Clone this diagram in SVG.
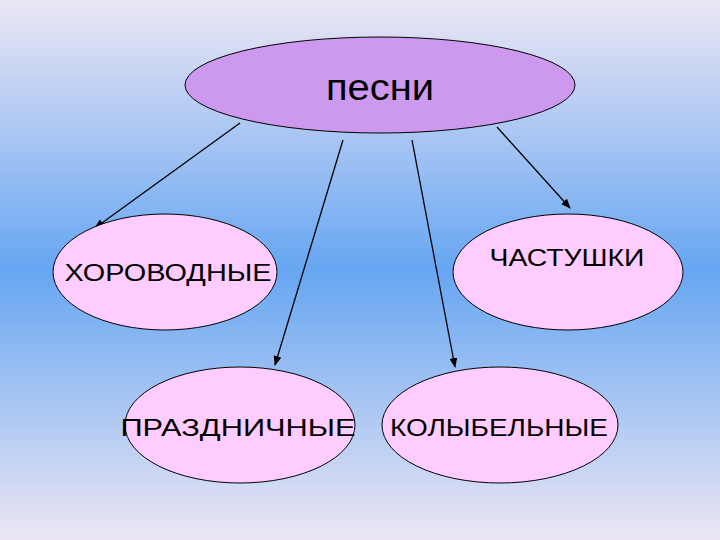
<svg xmlns="http://www.w3.org/2000/svg" width="720" height="540" viewBox="0 0 720 540">
<defs>
<linearGradient id="bg" x1="0" y1="0" x2="0" y2="1">
<stop offset="0" stop-color="#ece6f4"/>
<stop offset="0.5" stop-color="#66a6f2"/>
<stop offset="1" stop-color="#ece6f4"/>
</linearGradient>
<marker id="ah" markerWidth="10" markerHeight="8" refX="9" refY="4" orient="auto" markerUnits="userSpaceOnUse">
<path d="M0,0 L10,4 L0,8 Z" fill="#000"/>
</marker>
<style>
.n{fill:#ffccff;stroke:#000;stroke-width:1}
.t{font-family:"Liberation Sans",Arial,sans-serif;font-size:24px;fill:#000;text-anchor:middle}
.c{stroke:#000;stroke-width:1.3;fill:none;marker-end:url(#ah)}
</style>
</defs>
<rect width="720" height="540" fill="url(#bg)"/>
<g id="connectors">
<line class="c" x1="240" y1="123" x2="95" y2="228"/>
<line class="c" x1="343" y1="140" x2="275" y2="365"/>
<line class="c" x1="412" y1="140" x2="455" y2="367"/>
<line class="c" x1="497" y1="127" x2="570" y2="208"/>
</g>
<g id="songs">
<ellipse cx="380" cy="85" rx="195" ry="48" fill="#cc99ee" stroke="#000"/>
<text class="t" x="380" y="100" style="font-size:36px" textLength="108" lengthAdjust="spacingAndGlyphs">песни</text>
</g>
<g id="khorovodnye">
<ellipse class="n" cx="165" cy="272" rx="112" ry="58"/>
<text class="t" x="168" y="281" textLength="207" lengthAdjust="spacingAndGlyphs">ХОРОВОДНЫЕ</text>
</g>
<g id="chastushki">
<ellipse class="n" cx="568" cy="272" rx="115" ry="58"/>
<text class="t" x="567" y="266" textLength="155" lengthAdjust="spacingAndGlyphs">ЧАСТУШКИ</text>
</g>
<g id="prazdnichnye">
<ellipse class="n" cx="240" cy="425" rx="115" ry="58"/>
<text class="t" x="238" y="436" textLength="235" lengthAdjust="spacingAndGlyphs">ПРАЗДНИЧНЫЕ</text>
</g>
<g id="kolybelnye">
<ellipse class="n" cx="500" cy="425" rx="118" ry="58"/>
<text class="t" x="499" y="436" textLength="218" lengthAdjust="spacingAndGlyphs">КОЛЫБЕЛЬНЫЕ</text>
</g>
</svg>
